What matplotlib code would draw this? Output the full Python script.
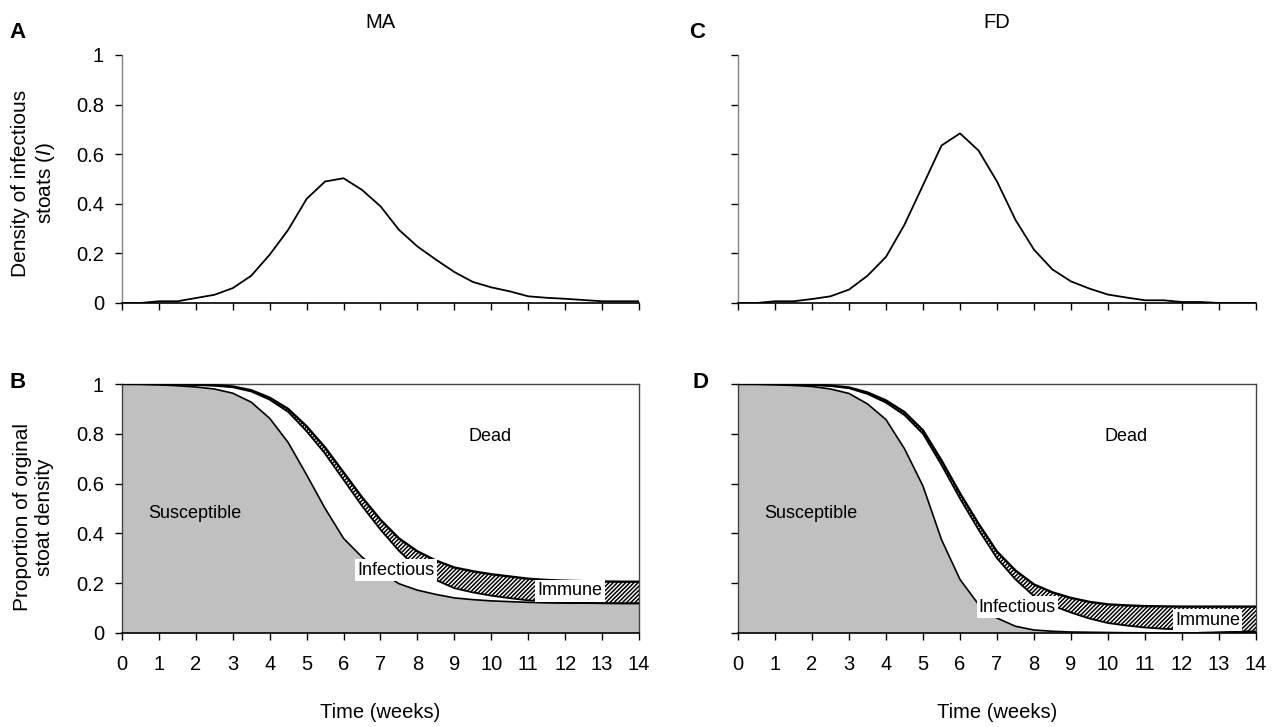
import matplotlib
matplotlib.use('Agg')
import matplotlib.pyplot as plt
import numpy as np

plt.rcParams['font.family'] = ['Liberation Sans', 'DejaVu Sans']
plt.rcParams['mathtext.fontset'] = 'custom'
plt.rcParams['mathtext.rm'] = 'Liberation Sans'
plt.rcParams['mathtext.it'] = 'Liberation Sans:italic'
plt.rcParams['hatch.linewidth'] = 1.1

# ---------------- data ----------------
weeks = [0, 0.5, 1, 1.5, 2, 2.5, 3, 3.5, 4, 4.5, 5, 5.5, 6, 6.5, 7, 7.5,
         8, 8.5, 9, 9.5, 10, 10.5, 11, 11.5, 12, 12.5, 13, 13.5, 14]

# Density of infectious stoats (top panels)
ma_infectious_density = [0, 0, 0.007, 0.007, 0.02, 0.033, 0.06, 0.11, 0.195, 0.295,
                         0.42, 0.49, 0.503, 0.456, 0.39, 0.295, 0.228, 0.175, 0.125,
                         0.085, 0.063, 0.047, 0.027, 0.021, 0.017, 0.012, 0.007, 0.007, 0.007]
fd_infectious_density = [0, 0, 0.007, 0.007, 0.016, 0.027, 0.054, 0.11, 0.186, 0.316,
                         0.475, 0.635, 0.684, 0.615, 0.49, 0.335, 0.215, 0.135, 0.087,
                         0.058, 0.034, 0.022, 0.011, 0.011, 0.004, 0.004, 0, 0, 0]

# Proportions of original density (bottom panels)
ma_susceptible = [1.0, 0.999, 0.997, 0.993, 0.988, 0.98, 0.963, 0.927, 0.862, 0.765,
                  0.635, 0.5, 0.38, 0.305, 0.245, 0.198, 0.172, 0.155, 0.141, 0.134,
                  0.129, 0.126, 0.123, 0.121, 0.12, 0.12, 0.119, 0.119, 0.119]
ma_infectious = [0, 0.001, 0.002, 0.005, 0.008, 0.013, 0.024, 0.043, 0.075, 0.123,
                 0.175, 0.22, 0.235, 0.205, 0.17, 0.132, 0.088, 0.058, 0.039, 0.029,
                 0.021, 0.014, 0.008, 0.005, 0.003, 0.001, 0.001, 0, 0]
ma_immune = [0, 0, 0, 0.001, 0.002, 0.003, 0.003, 0.005, 0.008, 0.012, 0.02, 0.025,
             0.03, 0.035, 0.04, 0.05, 0.068, 0.078, 0.083, 0.085, 0.086, 0.087, 0.087,
             0.087, 0.087, 0.087, 0.087, 0.087, 0.087]

fd_susceptible = [1.0, 0.999, 0.997, 0.994, 0.99, 0.98, 0.962, 0.92, 0.857, 0.74,
                  0.59, 0.375, 0.215, 0.115, 0.06, 0.027, 0.012, 0.007, 0.004, 0.003,
                  0.002, 0.001, 0.001, 0, 0, 0, 0, 0, 0]
fd_infectious = [0, 0.001, 0.002, 0.004, 0.006, 0.012, 0.021, 0.04, 0.068, 0.135,
                 0.21, 0.3, 0.325, 0.3, 0.24, 0.188, 0.136, 0.103, 0.078, 0.055,
                 0.038, 0.029, 0.021, 0.017, 0.014, 0.011, 0.009, 0.007, 0.006]
fd_immune = [0, 0, 0.001, 0.001, 0.002, 0.002, 0.003, 0.006, 0.009, 0.012, 0.014,
             0.018, 0.021, 0.024, 0.027, 0.036, 0.047, 0.053, 0.059, 0.067, 0.075,
             0.081, 0.086, 0.09, 0.092, 0.095, 0.097, 0.099, 0.1]

x_ticks = list(range(0, 15))
y_ticks = [0, 0.2, 0.4, 0.6, 0.8, 1]
y_tick_labels = ['0', '0.2', '0.4', '0.6', '0.8', '1']

# ---------------- figure ----------------
W, H = 1278, 727
fig = plt.figure(figsize=(W / 100, H / 100), dpi=100)


def rect(x0, y0, x1, y1):
    return [x0 / W, 1 - y1 / H, (x1 - x0) / W, (y1 - y0) / H]


axA = fig.add_axes(rect(122, 55, 639, 303))
axB = fig.add_axes(rect(122, 384, 639, 633))
axC = fig.add_axes(rect(738, 55, 1256, 303))
axD = fig.add_axes(rect(738, 384, 1256, 633))

t = np.array(weeks)
FS = 14.5


def style(ax, show_ylabels, boxed, xlabels):
    ax.set_xlim(0, 14)
    ax.set_ylim(0, 1)
    ax.set_xticks(x_ticks)
    ax.set_yticks(y_ticks)
    if show_ylabels:
        ax.set_yticklabels(y_tick_labels)
    else:
        ax.set_yticklabels([])
    if xlabels:
        ax.set_xticklabels([str(v) for v in x_ticks])
    else:
        ax.set_xticklabels([])
    ax.tick_params(axis='x', direction='out', length=5, width=1, labelsize=FS, pad=11)
    ax.tick_params(axis='y', direction='out', length=5, width=1, labelsize=FS, pad=8)
    ax.spines['bottom'].set_color('black')
    ax.spines['bottom'].set_linewidth(1.2)
    if boxed:
        for s in ['left', 'top', 'right']:
            ax.spines[s].set_color('#444444')
            ax.spines[s].set_linewidth(1.0)
    else:
        ax.spines['top'].set_visible(False)
        ax.spines['right'].set_visible(False)
        ax.spines['left'].set_color('#808080')
        ax.spines['left'].set_linewidth(1.0)


def top_panel(ax, dens, show_ylabels):
    ax.plot(t, dens, color='black', lw=1.3)
    style(ax, show_ylabels, boxed=False, xlabels=False)


def bottom_panel(ax, S, I, R, show_ylabels, lab):
    S = np.array(S)
    SI = S + np.array(I)
    SIR = SI + np.array(R)
    ax.fill_between(t, 0, S, facecolor='#c0c0c0', edgecolor='none', zorder=1)
    ax.fill_between(t, SI, SIR, facecolor='white', hatch='////////',
                    edgecolor='black', linewidth=0, zorder=2)
    ax.plot(t, S, color='black', lw=1.2, zorder=3)
    ax.plot(t, SI, color='black', lw=1.3, zorder=3)
    ax.plot(t, SIR, color='black', lw=1.7, zorder=3)
    style(ax, show_ylabels, boxed=True, xlabels=True)
    box = dict(facecolor='white', edgecolor='none', pad=1.5)
    fs = 13
    ax.text(lab['sus'][0], lab['sus'][1], 'Susceptible', fontsize=fs,
            ha='center', va='center', zorder=5)
    ax.text(lab['dead'][0], lab['dead'][1], 'Dead', fontsize=fs,
            ha='center', va='center', zorder=5)
    ax.text(lab['inf'][0], lab['inf'][1], 'Infectious', fontsize=fs,
            ha='center', va='center', bbox=box, zorder=5)
    ax.text(lab['imm'][0], lab['imm'][1], 'Immune', fontsize=fs,
            ha='center', va='center', bbox=box, zorder=5)


top_panel(axA, ma_infectious_density, True)
top_panel(axC, fd_infectious_density, False)

bottom_panel(axB, ma_susceptible, ma_infectious, ma_immune, True,
             dict(sus=(1.98, 0.48), dead=(9.96, 0.79), inf=(7.42, 0.253), imm=(12.13, 0.169)))
bottom_panel(axD, fd_susceptible, fd_infectious, fd_immune, False,
             dict(sus=(1.97, 0.48), dead=(10.5, 0.79), inf=(7.55, 0.104), imm=(12.69, 0.052)))

# Panel letters and titles
for (x, y, s) in [(18, 33, 'A'), (18, 382, 'B'), (697, 33, 'C'), (701, 382, 'D')]:
    fig.text(x / W, 1 - y / H, s, fontsize=16, fontweight='bold', ha='center', va='center')
fig.text(380 / W, 1 - 23 / H, 'MA', fontsize=FS, ha='center', va='center')
fig.text(997 / W, 1 - 23 / H, 'FD', fontsize=FS, ha='center', va='center')

# Axis labels
fig.text(34 / W, 1 - 183 / H, 'Density of infectious\nstoats ($\\mathit{I}$)', fontsize=15,
         rotation=90, ha='center', va='center', multialignment='center', linespacing=1.2)
fig.text(34 / W, 1 - 517 / H, 'Proportion of orginal\nstoat density', fontsize=15,
         rotation=90, ha='center', va='center', multialignment='center', linespacing=1.2)
fig.text(380 / W, 1 - 712 / H, 'Time (weeks)', fontsize=FS, ha='center', va='center')
fig.text(997 / W, 1 - 712 / H, 'Time (weeks)', fontsize=FS, ha='center', va='center')

fig.savefig('out.png', dpi=100)
